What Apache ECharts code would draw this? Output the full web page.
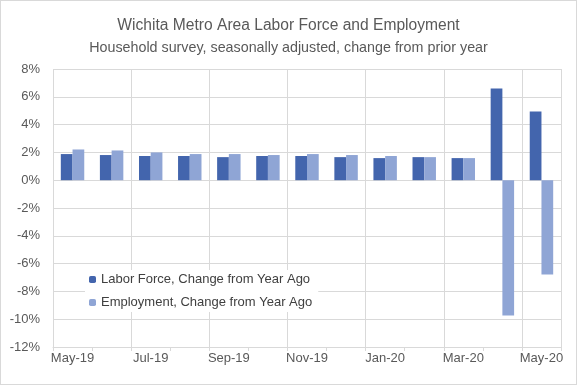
<!DOCTYPE html>
<html>
<head>
<meta charset="utf-8">
<script src="https://cdn.jsdelivr.net/npm/echarts@6/dist/echarts.min.js"></script>
<style>
html,body{margin:0;padding:0;background:#fff;}
#c{width:575px;height:383px;border:1px solid #D9D9D9;}
</style>
</head>
<body>
<div id="c"></div>
<script>
const categories = ['May-19','Jun-19','Jul-19','Aug-19','Sep-19','Oct-19','Nov-19','Dec-19','Jan-20','Feb-20','Mar-20','Apr-20','May-20'];
const laborForce = [1.88, 1.81, 1.74, 1.74, 1.66, 1.74, 1.74, 1.66, 1.59, 1.66, 1.59, 6.59, 4.95];
const employment = [2.21, 2.14, 2.00, 1.88, 1.88, 1.81, 1.88, 1.81, 1.74, 1.66, 1.59, -9.74, -6.79];
const seriesNames = ['Labor Force, Change from Year Ago', 'Employment, Change from Year Ago'];

const font = '"Liberation Sans", Arial, sans-serif';
const chart = echarts.init(document.getElementById('c'), null, {renderer: 'canvas'});
chart.setOption({
  animation: false,
  backgroundColor: '#fff',
  textStyle: {fontFamily: font},
  title: [
    {text: 'Wichita Metro Area Labor Force and Employment', left: 'center', top: 12,
     textStyle: {fontFamily: font, fontSize: 15.6, fontWeight: 'normal', color: '#595959'}},
    {text: 'Household survey, seasonally adjusted, change from prior year', left: 'center', top: 35,
     textStyle: {fontFamily: font, fontSize: 14.3, fontWeight: 'normal', color: '#595959'}}
  ],
  legend: {
    orient: 'vertical', left: 84, top: 269, itemWidth: 7, itemHeight: 7, itemGap: 10,
    backgroundColor: '#fff', padding: [3, 6, 3, 4],
    textStyle: {fontFamily: font, fontSize: 13, color: '#404040'},
    data: seriesNames
  },
  grid: {left: 52, right: 15, top: 68, bottom: 37},
  xAxis: [
    {type: 'category', data: categories, position: 'bottom',
     axisLine: {show: false}, axisTick: {show: false},
     axisLabel: {interval: 1, color: '#595959', fontSize: 13, fontFamily: font, margin: 5},
     splitLine: {show: true, interval: 1, lineStyle: {color: '#D9D9D9', width: 1}}},
    {type: 'category', data: categories, position: 'bottom',
     axisLine: {show: true, onZero: true, lineStyle: {color: '#D9D9D9'}},
     axisTick: {show: true, interval: 0, length: 4, lineStyle: {color: '#D9D9D9'}},
     axisLabel: {show: false}, splitLine: {show: false}}
  ],
  yAxis: {
    type: 'value', min: -12, max: 8, interval: 2,
    axisLabel: {formatter: '{value}%', color: '#595959', fontSize: 13, fontFamily: font, margin: 13},
    axisLine: {show: false}, axisTick: {show: false},
    splitLine: {lineStyle: {color: '#D9D9D9', width: 1}}
  },
  series: [
    {name: seriesNames[0], type: 'bar', data: laborForce, xAxisIndex: 0,
     barGap: '0%', barCategoryGap: '40%', itemStyle: {color: '#4365AD'}},
    {name: seriesNames[1], type: 'bar', data: employment, xAxisIndex: 0,
     barGap: '0%', barCategoryGap: '40%', itemStyle: {color: '#8FA5D5'}}
  ]
});
</script>
</body>
</html>
